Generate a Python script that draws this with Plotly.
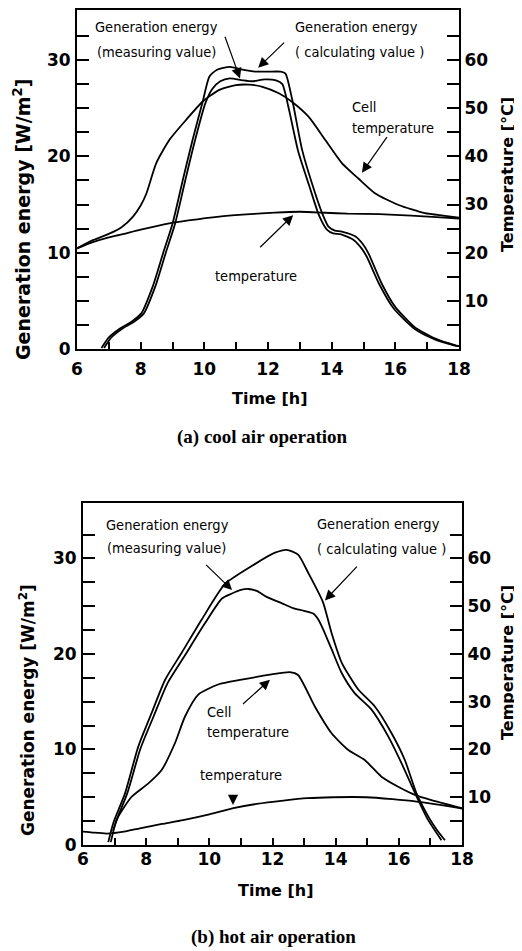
import plotly.graph_objects as go

# page body has an 8 px margin, so the figure is drawn from (8, 8)
OFF = 8
W, H = 514, 943

# ---------------- data: (a) cool air operation ----------------
a_calc_t = [6.77, 7.0, 7.34, 7.7, 8.02, 8.38, 8.7, 9.0, 9.32, 9.63, 9.95, 10.16, 10.4, 10.8, 11.2, 11.6, 12.0, 12.4, 12.55,
            12.76, 13.07, 13.38, 13.7, 13.9, 14.1, 14.32, 14.74, 15.0, 15.16, 15.57, 15.99, 16.6, 17.24, 17.87, 18.0]
a_calc_e = [0.1, 1.2, 2.1, 2.8, 3.7, 6.5, 9.9, 13.0, 17.5, 21.7, 25.7, 28.3, 29.0, 29.3, 29.0, 28.8, 28.8, 28.8, 28.6,
            25.9, 20.7, 17.2, 14.1, 12.7, 12.3, 12.2, 11.7, 10.8, 9.9, 6.8, 4.4, 2.3, 1.1, 0.4, 0.3]

a_meas_t = [6.85, 7.08, 7.42, 7.78, 8.1, 8.46, 8.78, 9.08, 9.4, 9.71, 10.03, 10.25, 10.5, 10.8, 11.2, 11.5, 11.9, 12.25, 12.45,
            12.65, 12.95, 13.3, 13.6, 13.85, 14.05, 14.3, 14.7, 14.95, 15.1, 15.5, 15.95, 16.6, 17.24, 17.87, 18.0]
a_meas_e = [0.1, 1.2, 2.1, 2.8, 3.7, 6.5, 9.9, 13.0, 17.5, 21.7, 25.5, 27.0, 27.8, 28.1, 27.9, 27.8, 28.0, 27.9, 27.5,
            25.0, 20.5, 16.9, 13.9, 12.4, 12.0, 11.9, 11.3, 10.4, 9.6, 6.7, 4.2, 2.1, 1.0, 0.35, 0.3]

a_cell_t = [6.0, 6.5, 7.03, 7.4, 7.76, 8.0, 8.18, 8.49, 8.9, 9.43, 9.95, 10.47, 10.99, 11.4, 11.8, 12.34, 12.76,
            13.28, 13.8, 14.32, 14.84, 15.37, 16.1, 16.93, 17.5, 18.0]
a_cell_c = [20.9, 22.6, 24.0, 25.3, 27.5, 29.8, 32.3, 38.6, 43.4, 47.6, 51.4, 53.8, 54.8, 54.9, 54.5, 53.1, 51.3,
            48.2, 43.4, 38.6, 35.4, 32.3, 29.9, 28.2, 27.7, 27.3]

a_amb_t = [6.0, 6.5, 7.0, 7.34, 8.0, 8.9, 9.5, 10.47, 11.2, 11.93, 12.5, 13.0, 13.8, 14.5, 15.5, 16.5, 17.3, 18.0]
a_amb_c = [20.9, 22.2, 23.2, 23.7, 24.8, 26.1, 26.7, 27.5, 27.9, 28.2, 28.4, 28.5, 28.3, 28.1, 28.0, 27.7, 27.4, 27.1]

# ---------------- data: (b) hot air operation ----------------
b_calc_t = [6.8, 6.96, 7.33, 7.75, 8.17, 8.6, 9.12, 9.76, 10.49, 11.34, 12.08, 12.45, 12.81, 13.13, 13.6, 13.87,
            14.19, 14.71, 15.24, 15.77, 16.19, 16.56, 16.93, 17.2, 17.46]
b_calc_e = [0.3, 2.3, 5.4, 10.3, 13.8, 17.3, 20.1, 23.6, 27.3, 29.2, 30.6, 30.9, 30.4, 28.5, 25.4, 22.2,
            19.1, 16.3, 14.5, 11.7, 8.9, 5.4, 3.0, 1.6, 0.5]

b_meas_t = [6.88, 7.03, 7.4, 7.82, 8.24, 8.67, 9.2, 9.84, 10.4, 10.7, 11.0, 11.23, 11.5, 11.8, 12.3, 12.65, 13.0,
            13.3, 13.45, 13.6, 13.87, 14.19, 14.6, 15.13, 15.66, 16.08, 16.56, 16.93, 17.35]
b_meas_e = [0.3, 2.3, 5.4, 10.1, 13.5, 16.9, 19.7, 23.1, 25.8, 26.3, 26.7, 26.8, 26.6, 26.0, 25.3, 24.8, 24.5,
            24.2, 23.6, 22.6, 20.5, 18.0, 15.9, 14.2, 11.4, 8.6, 5.1, 2.6, 0.5]

b_cell_t = [6.95, 7.12, 7.54, 8.07, 8.49, 8.91, 9.23, 9.65, 10.28, 11.02, 11.97, 12.55, 12.81, 13.34, 13.87,
            14.4, 14.92, 15.45, 15.98, 16.51, 17.03, 18.0]
b_cell_c = [3.0, 6.0, 10.1, 12.9, 15.7, 21.3, 26.9, 31.5, 33.6, 34.6, 35.7, 36.2, 35.6, 29.0, 23.4,
            19.9, 17.8, 14.3, 12.2, 10.5, 9.4, 7.7]

b_amb_t = [6.0, 6.3, 6.75, 7.3, 7.8, 8.5, 9.17, 10.0, 10.76, 11.5, 12.34, 13.1, 13.92, 14.98, 15.8, 16.56, 17.3, 17.93, 18.0]
b_amb_c = [2.8, 2.6, 2.4, 2.8, 3.5, 4.4, 5.2, 6.4, 7.7, 8.6, 9.3, 9.8, 10.0, 10.0, 9.6, 9.1, 8.4, 7.7, 7.6]

hours = list(range(6, 19))
hour_labels = [str(h) if h % 2 == 0 else "" for h in hours]
energy_ticks = [i * 2.5 for i in range(14)]
energy_labels = [str(int(v)) if v % 10 == 0 else "" for v in energy_ticks]
temp_ticks = [i * 5 for i in range(1, 14)]
temp_labels = [str(v) if v % 10 == 0 else "" for v in temp_ticks]


def px(x):
    return (x - OFF) / W


def py(y):
    return 1 - (y - OFF) / H


fig = go.Figure()
line = dict(color="black", width=1.8, shape="spline", smoothing=0.6)

fig.add_trace(go.Scatter(x=a_calc_t, y=a_calc_e, mode="lines", line=line, xaxis="x", yaxis="y"))
fig.add_trace(go.Scatter(x=a_meas_t, y=a_meas_e, mode="lines", line=line, xaxis="x", yaxis="y"))
fig.add_trace(go.Scatter(x=a_cell_t, y=a_cell_c, mode="lines", line=line, xaxis="x", yaxis="y2"))
fig.add_trace(go.Scatter(x=a_amb_t, y=a_amb_c, mode="lines", line=line, xaxis="x", yaxis="y2"))

fig.add_trace(go.Scatter(x=b_calc_t, y=b_calc_e, mode="lines", line=line, xaxis="x2", yaxis="y3"))
fig.add_trace(go.Scatter(x=b_meas_t, y=b_meas_e, mode="lines", line=line, xaxis="x2", yaxis="y3"))
fig.add_trace(go.Scatter(x=b_cell_t, y=b_cell_c, mode="lines", line=line, xaxis="x2", yaxis="y4"))
fig.add_trace(go.Scatter(x=b_amb_t, y=b_amb_c, mode="lines", line=line, xaxis="x2", yaxis="y4"))

tickfont = dict(family="DejaVu Sans", size=17, color="black", weight="bold")
common = dict(showline=True, linecolor="black", linewidth=2, showgrid=False, zeroline=False,
              ticks="inside", tickcolor="black", tickwidth=1.5, tickfont=tickfont, fixedrange=True,
              automargin=False)

def xax(dom, anchor, standoff):
    return dict(domain=dom, anchor=anchor, range=[6, 18], tickmode="array", tickvals=hours,
                ticktext=hour_labels, ticklen=7, mirror=True, ticklabelstandoff=standoff, **common)

def yleft(dom, anchor, top):
    return dict(domain=dom, anchor=anchor, range=[0, top], tickmode="array", tickvals=energy_ticks,
                ticktext=energy_labels, ticklen=12, mirror=True, ticklabelstandoff=1, **common)

def yright(over, anchor, top):
    return dict(overlaying=over, anchor=anchor, side="right", range=[0, top], tickmode="array",
                tickvals=temp_ticks, ticktext=temp_labels, ticklen=12, ticklabelstandoff=0, **common)

top_y = [py(349), py(10)]
bot_y = [py(845), py(503)]
fig.update_layout(
    width=W, height=H, margin=dict(l=0, r=0, t=0, b=0, autoexpand=False),
    paper_bgcolor="white", plot_bgcolor="white", showlegend=False,
    xaxis=xax([px(77), px(459)], "y", 4),
    yaxis=yleft(top_y, "x", 35.2),
    yaxis2=yright("y", "x", 70.4),
    xaxis2=xax([px(83), px(462)], "y3", -2),
    yaxis3=yleft(bot_y, "x2", 35.8),
    yaxis4=yright("y3", "x2", 71.6),
)

ann = []
labfont = dict(family="DejaVu Sans Condensed", size=14.5, color="black")


def text(s, x, y, anchor="left", font=labfont, angle=0):
    ann.append(dict(text=s, x=px(x), y=py(y), xref="paper", yref="paper", showarrow=False,
                    xanchor=anchor, yanchor="middle", font=font, textangle=angle))


def arrow(xr, yr, x, y, ax, ay):
    ann.append(dict(text=" ", x=x, y=y, xref=xr, yref=yr, ax=ax, ay=ay, showarrow=True,
                    arrowhead=2, arrowsize=1.7, arrowwidth=1.2, arrowcolor="black", standoff=0))

# chart (a)
text("Generation energy", 93, 27)
text("(measuring value)", 95, 52)
text("Generation energy", 293, 27)
text("( calculating value )", 293, 52)
text("Cell", 350, 107)
text("temperature", 350, 128)
text("temperature", 213, 276)
arrow("x", "y", 11.12, 28.1, -18, -50)
arrow("x", "y", 11.69, 29.2, 29, -28)
arrow("x", "y", 14.95, 18.3, 28, -40)
arrow("x", "y", 12.79, 13.9, -36, 35)

# chart (b)
text("Generation energy", 104, 525)
text("(measuring value)", 105, 548)
text("Generation energy", 315, 524)
text("( calculating value )", 315, 549)
text("Cell", 205, 712)
text("temperature", 205, 732)
text("temperature", 198, 775)
arrow("x2", "y3", 10.72, 26.7, -29, -28)
arrow("x2", "y3", 13.66, 25.6, 35, -37)
arrow("x2", "y3", 11.92, 17.3, -30, 27)
arrow("x2", "y3", 10.75, 4.2, 0, -18)

def tfont(size):
    return dict(family="DejaVu Sans", size=size, color="black", weight="bold")

text("Time [h]", 270, 398, "center", tfont(16))
text("Time [h]", 276, 890, "center", tfont(16))
text("Generation energy [W/m<sup>2</sup>]", 22, 220, "center", tfont(19), -90)
text("Generation energy [W/m<sup>2</sup>]", 27, 710, "center", tfont(17), -90)
text("Temperature [°C]", 507, 175, "center", tfont(16), -90)
text("Temperature [°C]", 507, 663, "center", tfont(16), -90)

capfont = dict(family="Liberation Serif", size=19, color="black", weight="bold")
text("(a) cool air operation", 262, 437, "center", capfont)
text("(b) hot air operation", 273, 937, "center", capfont)

fig.update_layout(annotations=ann)
fig.write_html("out.html")
